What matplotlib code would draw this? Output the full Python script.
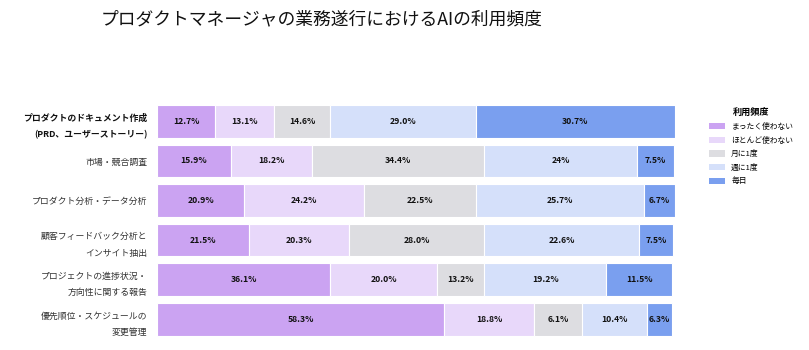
import matplotlib
matplotlib.use('Agg')
import matplotlib.pyplot as plt
from matplotlib.patches import Patch
import numpy as np

plt.rcParams['font.family'] = ['Noto Sans CJK JP', 'DejaVu Sans']

# データ
tasks = [
    'プロダクトのドキュメント作成\n(PRD、ユーザーストーリー)',
    '市場・競合調査',
    'プロダクト分析・データ分析',
    '顧客フィードバック分析と\nインサイト抽出',
    'プロジェクトの進捗状況・\n方向性に関する報告',
    '優先順位・スケジュールの\n変更管理',
]
freq_labels = ['まったく使わない', 'ほとんど使わない', '月に1度', '週に1度', '毎日']

# バーに表示されている数値
never = [12.7, 15.9, 20.9, 21.5, 36.1, 58.3]
rarely = [13.1, 18.2, 24.2, 20.3, 20.0, 18.8]
monthly = [14.6, 34.4, 22.5, 28.0, 13.2, 6.1]
weekly = [29.0, 24.0, 25.7, 22.6, 19.2, 10.4]
daily = [30.7, 7.5, 6.7, 7.5, 11.5, 6.3]
label_override = {(1, 3): '24%'}

# 元画像で描かれているバーの幅（表示値と一致しない）
never_w = [11.2, 14.2, 16.8, 17.7, 33.4, 55.4]
rarely_w = [11.3, 15.6, 23.2, 19.4, 20.7, 17.4]
monthly_w = [10.9, 33.3, 21.6, 26.1, 9.0, 9.3]
weekly_w = [28.1, 29.6, 32.4, 29.9, 23.6, 12.4]
daily_w = [38.5, 7.1, 5.9, 6.5, 12.8, 5.0]

colors = ['#CBA3F2', '#E8D8FA', '#DDDDE1', '#D5E0FA', '#7A9FEF']

series = [never, rarely, monthly, weekly, daily]
widths = [never_w, rarely_w, monthly_w, weekly_w, daily_w]

fig = plt.figure(figsize=(8.09, 3.5), dpi=100)
ax = fig.add_axes([0.1944, 0.031, 0.640, 0.679])

y = np.arange(len(tasks))
left = np.zeros(len(tasks))
for si, (vals, w, col) in enumerate(zip(series, widths, colors)):
    w = np.array(w)
    ax.barh(y, w, left=left, height=0.82, color=col,
            edgecolor='white', linewidth=0.8)
    for ri, v in enumerate(vals):
        txt = label_override.get((ri, si), f'{v:.1f}%')
        ax.text(left[ri] + w[ri] / 2, y[ri], txt, ha='center', va='center',
                fontsize=6.2, fontweight='bold', color='#111111')
    left += w

ax.set_xlim(0, 100)
ax.set_ylim(len(tasks) - 0.5, -0.5)
ax.set_yticks(y)
ax.set_yticklabels(tasks, fontsize=6.4, color='#333333', linespacing=2.1)
ax.get_yticklabels()[0].set_fontweight('bold')
ax.get_yticklabels()[0].set_color('#111111')
ax.tick_params(axis='y', length=0, pad=7)
ax.set_xticks([])
for s in ax.spines.values():
    s.set_visible(False)

fig.text(0.398, 0.945, 'プロダクトマネージャの業務遂行におけるAIの利用頻度',
         ha='center', va='center', fontsize=12.8, color='#111111')

handles = [Patch(facecolor=c, edgecolor='none') for c in colors]
leg = fig.legend(handles, freq_labels, title='利用頻度', loc='upper left',
                 bbox_to_anchor=(0.873, 0.70), frameon=False, fontsize=5.6,
                 title_fontsize=6.6, handlelength=2.0, handleheight=0.9,
                 labelspacing=0.72, handletextpad=0.8, borderaxespad=0)
leg.get_title().set_fontweight('bold')

fig.savefig('out.png', dpi=100)
